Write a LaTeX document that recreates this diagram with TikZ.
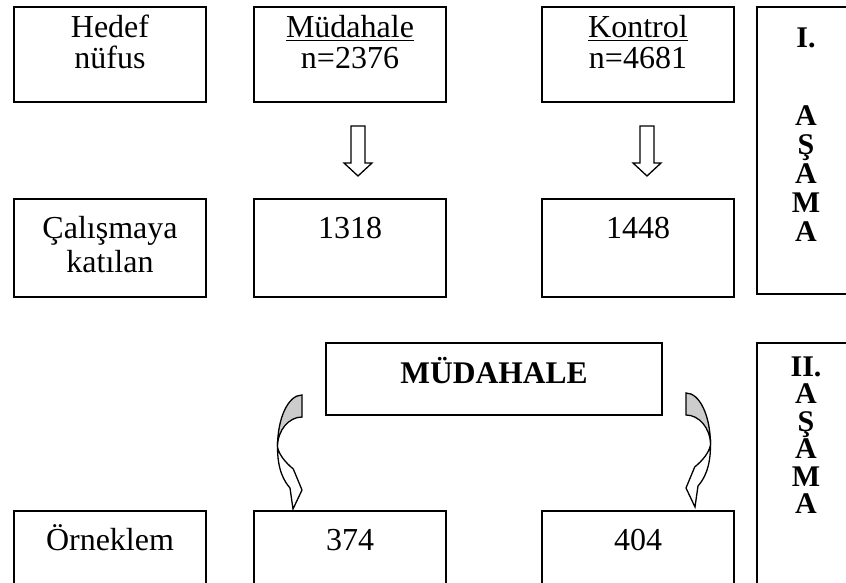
\documentclass[tikz,border=0pt]{standalone}
\usepackage{fontspec}
\setmainfont{Liberation Serif}
\newsavebox\ulbox
\newcommand\myul[1]{\sbox\ulbox{#1}\rlap{\rule[-3.5pt]{\wd\ulbox}{1.5pt}}\usebox\ulbox}
\newcommand\colline[1]{\hbox to 0pt{\hss#1\hss}}
\definecolor{shadegrey}{RGB}{204,204,204}
\tikzset{
  box/.style={draw, line width=1.6pt, minimum width=192pt, inner sep=0pt},
  txt/.style={font=\fontsize{32}{34}\selectfont, inner sep=0pt, anchor=base},
  btxt/.style={font=\fontsize{31.5}{34}\selectfont\bfseries, inner sep=0pt, anchor=base},
  ctxt/.style={font=\fontsize{30}{30}\selectfont\bfseries, inner sep=0pt, anchor=base},
  blockarrow/.style={draw, line width=1.3pt, fill=white},
  curvarrow/.pic={
    \draw[blockarrow] (-24.5,52) .. controls (-24.5,75) and (-18,86) .. (-12,93)
      -- (-9,114) -- (0,95) -- (-8.7,74) .. controls (-16,68) and (-23,60) .. (-24.5,52) -- cycle;
    \draw[blockarrow, fill=shadegrey] (0,0) -- (0,22) .. controls (-13,22) and (-24.5,35) .. (-24.5,52)
      .. controls (-24.5,23) and (-13.8,0) .. (0,0) -- cycle;
  }
}
\begin{document}
\begin{tikzpicture}[x=1pt,y=-1pt]
\useasboundingbox (0,0) rectangle (846,583);
\clip (0,0) rectangle (846,583);
% row 1
\node[box, minimum height=95pt] (hedef) at (110,54.5) {};
\node[box, minimum height=95pt] (mud) at (350,54.5) {};
\node[box, minimum height=95pt] (kon) at (638,54.5) {};
\node[txt] (hedefA) at (110,38) {Hedef};
\node[txt] (hedefB) at (110,69) {nüfus};
\node[txt] (mudA) at (350,38) {\myul{Müdahale}};
\node[txt] (mudB) at (350,69) {n=2376};
\node[txt] (konA) at (638,38) {\myul{Kontrol}};
\node[txt] (konB) at (638,69) {n=4681};
% row 2
\node[box, minimum height=98pt] (cal) at (110,248) {};
\node[box, minimum height=98pt] (m2) at (350,248) {};
\node[box, minimum height=98pt] (k2) at (638,248) {};
\node[txt] (calA) at (110,238) {Çalışmaya};
\node[txt] (calB) at (110,272) {katılan};
\node[txt] (m2t) at (350,238) {1318};
\node[txt] (k2t) at (638,238) {1448};
% down arrows
\coordinate (a1) at (358,126);
\coordinate (a2) at (647,126);
\foreach \c in {a1,a2}{
  \draw[blockarrow] ([xshift=-7pt]\c) -- ([xshift=7pt]\c) -- ([shift={(7,37)}]\c) -- ([shift={(14,37)}]\c)
    -- ([shift={(0,50)}]\c) -- ([shift={(-14,37)}]\c) -- ([shift={(-7,37)}]\c) -- cycle;
}
% intervention
\node[draw, line width=1.6pt, minimum width=336pt, minimum height=72pt] (mbox) at (494,379) {};
\node[btxt] (mtext) at (494,383) {MÜDAHALE};
% row 3
\node[box, minimum height=89pt] (orn) at (110,555.5) {};
\node[box, minimum height=89pt] (m3) at (350,555.5) {};
\node[box, minimum height=89pt] (k3) at (638,555.5) {};
\node[txt] (ornt) at (110,550) {Örneklem};
\node[txt] (m3t) at (350,550) {374};
\node[txt] (k3t) at (638,550) {404};
% curved arrows
\pic at (302,395) {curvarrow};
\pic[xscale=-1] at (686,393) {curvarrow};
% stage boxes
\node[draw, line width=1.6pt, minimum width=98pt, minimum height=287pt] (s1) at (806,150.5) {};
\node[ctxt] (s1a) at (806,48) {I.};
\node[ctxt] (s1b) at (806,126) {\vtop{\baselineskip=29pt\colline{A}\colline{Ş}\colline{A}\colline{M}\colline{A}}};
\node[draw, line width=1.6pt, minimum width=98pt, minimum height=257pt] (s2) at (806,471.5) {};
\node[ctxt] (s2a) at (806,376) {\vtop{\baselineskip=27.5pt\colline{II.}\colline{A}\colline{Ş}\colline{A}\colline{M}\colline{A}}};
\end{tikzpicture}
\end{document}
